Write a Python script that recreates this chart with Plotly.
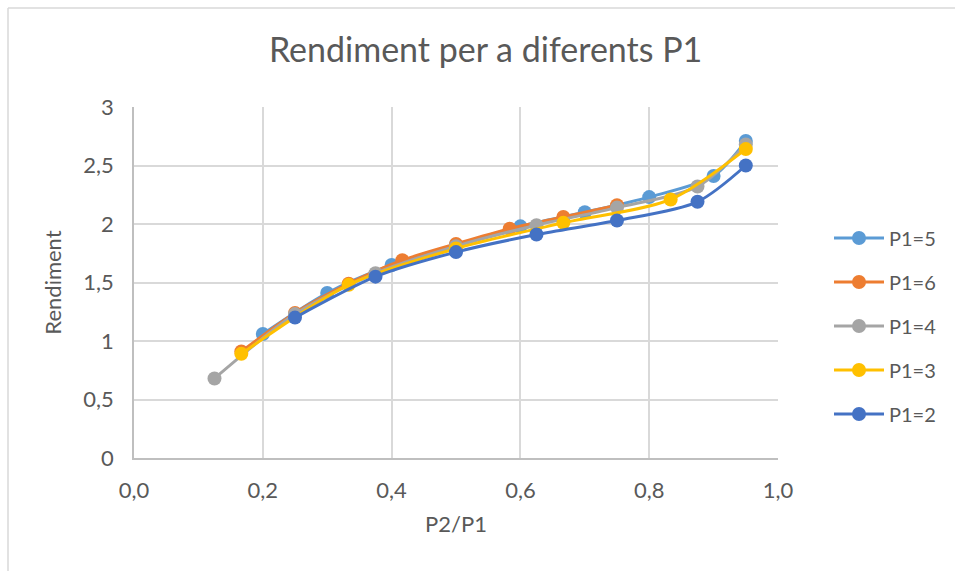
import plotly.graph_objects as go

# Efficiency (Rendiment) versus pressure ratio P2/P1 for several inlet pressures P1
p1_5_x = [0.2, 0.3, 0.4, 0.5, 0.6, 0.7, 0.8, 0.9, 0.95]
p1_5_y = [1.06, 1.41, 1.65, 1.82, 1.98, 2.10, 2.23, 2.41, 2.71]

p1_6_x = [1/6, 0.25, 1/3, 5/12, 0.5, 7/12, 2/3, 0.75]
p1_6_y = [0.91, 1.24, 1.49, 1.69, 1.83, 1.96, 2.06, 2.16]

p1_4_x = [0.125, 0.25, 0.375, 0.5, 0.625, 0.75, 0.875, 0.95]
p1_4_y = [0.68, 1.23, 1.58, 1.81, 1.99, 2.14, 2.32, 2.68]

p1_3_x = [1/6, 1/3, 0.5, 2/3, 5/6, 0.95]
p1_3_y = [0.89, 1.48, 1.79, 2.01, 2.21, 2.64]

p1_2_x = [0.25, 0.375, 0.5, 0.625, 0.75, 0.875, 0.95]
p1_2_y = [1.20, 1.55, 1.76, 1.91, 2.03, 2.19, 2.50]

series_names = ["P1=5", "P1=6", "P1=4", "P1=3", "P1=2"]
series_x = [p1_5_x, p1_6_x, p1_4_x, p1_3_x, p1_2_x]
series_y = [p1_5_y, p1_6_y, p1_4_y, p1_3_y, p1_2_y]
series_colors = ["#5B9BD5", "#ED7D31", "#A5A5A5", "#FFC000", "#4472C4"]

x_ticks = [0.0, 0.2, 0.4, 0.6, 0.8, 1.0]
x_tick_labels = ["0,0", "0,2", "0,4", "0,6", "0,8", "1,0"]
y_ticks = [0, 0.5, 1, 1.5, 2, 2.5, 3]
y_tick_labels = ["0", "0,5", "1", "1,5", "2", "2,5", "3"]

TEXT = "#595959"
FONT = "Lato"

fig = go.Figure()
for name, xs, ys, col in zip(series_names, series_x, series_y, series_colors):
    fig.add_trace(go.Scatter(
        x=xs, y=ys, name=name, legendgroup=name,
        mode="lines+markers",
        line=dict(color=col, width=3, shape="spline", smoothing=0.8),
        marker=dict(color=col, size=14, symbol="circle"),
    ))

W, H = 955, 571
L, R, T, B = 134, 778, 107, 458

fig.update_layout(
    width=W, height=H,
    margin=dict(l=L, r=W - R, t=T, b=H - B, pad=0),
    paper_bgcolor="white", plot_bgcolor="white",
    font=dict(family=FONT, color=TEXT, size=20),
    title=dict(text="Rendiment per a diferents P1", x=0.5085, xanchor="center",
               y=1 - 50 / H, yanchor="middle",
               font=dict(family=FONT, size=34, color=TEXT)),
    xaxis=dict(range=[0, 1], tickvals=x_ticks, ticktext=x_tick_labels,
               showgrid=True, gridcolor="#D9D9D9", gridwidth=1.5,
               showline=True, linecolor="#BFBFBF", linewidth=1.5,
               zeroline=False, ticks="", ticklabelstandoff=12,
               title=dict(text="P2/P1", standoff=14,
                          font=dict(family=FONT, size=22, color=TEXT)),
               tickfont=dict(family=FONT, size=22, color=TEXT)),
    yaxis=dict(range=[0, 3], tickvals=y_ticks, ticktext=y_tick_labels,
               showgrid=True, gridcolor="#D9D9D9", gridwidth=1.5,
               showline=True, linecolor="#BFBFBF", linewidth=1.5,
               zeroline=False, ticks="", ticklabelstandoff=14,
               title=dict(text="Rendiment", standoff=16,
                          font=dict(family=FONT, size=22, color=TEXT)),
               tickfont=dict(family=FONT, size=22, color=TEXT)),
    legend=dict(x=(829 - L) / (R - L), xanchor="left",
                y=(B - 326) / (B - T), yanchor="middle",
                itemwidth=50, tracegroupgap=15, bgcolor="rgba(0,0,0,0)",
                font=dict(family=FONT, size=20, color=TEXT)),
    showlegend=True,
)

# Chart frame (top and left edges)
px = lambda v: (v - L) / (R - L)
py = lambda v: (B - v) / (B - T)
fig.add_shape(type="line", xref="paper", yref="paper",
              x0=px(8), x1=px(W), y0=py(8), y1=py(8),
              line=dict(color="#D9D9D9", width=1.5))
fig.add_shape(type="line", xref="paper", yref="paper",
              x0=px(8), x1=px(8), y0=py(8), y1=py(H),
              line=dict(color="#D9D9D9", width=1.5))

fig.write_html("out.html")
